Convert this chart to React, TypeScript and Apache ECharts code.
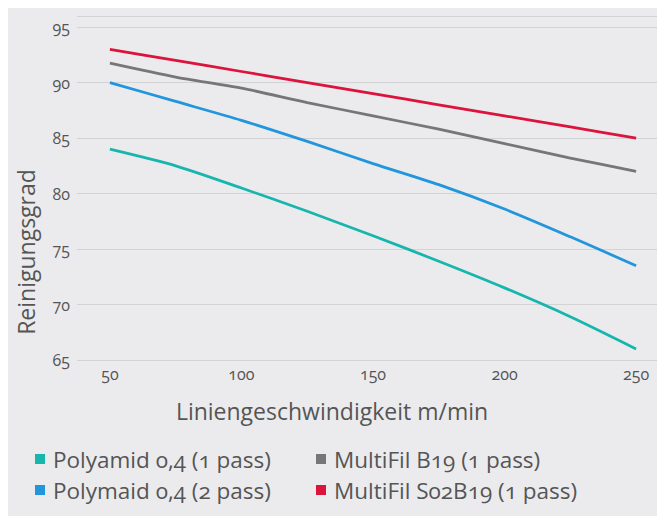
import React, { useEffect, useRef } from "react";
import * as echarts from "echarts";

const speeds = ["50", "75", "100", "125", "150", "175", "200", "225", "250"];
const yTicks = { min: 65, max: 96, interval: 5 };

const seriesNames = [
  "Polyamid 0,4 (1 pass)",
  "MultiFil B19 (1 pass)",
  "Polymaid 0,4 (2 pass)",
  "MultiFil S02B19 (1 pass)",
];
const polyamid1 = [84, 82.5, 80.5, 78.4, 76.2, 73.9, 71.5, 68.9, 66];
const multiFilB19 = [91.75, 90.5, 89.5, 88.2, 87.0, 85.8, 84.5, 83.2, 82.0];
const polyamid2 = [90, 88.3, 86.6, 84.7, 82.7, 80.8, 78.6, 76.1, 73.5];
const multiFilS02 = [93, 92, 91, 90, 89, 88, 87, 86, 85];
const seriesColors = ["#17b6ad", "#767676", "#2196dc", "#dc143c"];

const yTitle = "Reinigungsgrad";
const xTitle = "Liniengeschwindigkeit m/min";

const FONT = "'Open Sans', 'Noto Sans', sans-serif";
const TEXT = "#555555";

export default function App() {
  const ref = useRef<HTMLDivElement>(null);
  useEffect(() => {
    if (!ref.current) return;
    const chart = echarts.init(ref.current, undefined, { renderer: "svg" });
    const data = [polyamid1, multiFilB19, polyamid2, multiFilS02];
    const legendText = {
      color: TEXT,
      fontSize: 22.5,
      lineHeight: 28,
      fontFamily: FONT,
      padding: [0, 0, 0, 3],
    };
    chart.setOption({
      animation: false,
      backgroundColor: "#ebebee",
      textStyle: { fontFamily: FONT },
      grid: { left: 69, right: 0, top: 8, bottom: 156, containLabel: false },
      xAxis: {
        type: "category",
        data: speeds,
        boundaryGap: true,
        axisLine: { show: false },
        axisTick: { show: false },
        splitLine: { show: false },
        axisLabel: { interval: 1, color: TEXT, fontSize: 16, margin: 6, fontFamily: FONT },
      },
      yAxis: {
        type: "value",
        min: yTicks.min,
        max: yTicks.max,
        interval: yTicks.interval,
        axisLine: { show: false },
        axisTick: { show: false },
        splitLine: { lineStyle: { color: "#d3d3d6", width: 1 } },
        axisLabel: {
          color: TEXT,
          fontSize: 16,
          margin: 7,
          fontFamily: FONT,
          formatter: (v: number) => (v % 5 === 0 ? String(v) : ""),
        },
      },
      legend: [
        {
          orient: "vertical",
          left: 27,
          top: 437,
          padding: 0,
          itemWidth: 10,
          itemHeight: 10,
          itemGap: 3,
          icon: "rect",
          data: [seriesNames[0], seriesNames[2]],
          textStyle: legendText,
        },
        {
          orient: "vertical",
          left: 308,
          top: 437,
          padding: 0,
          itemWidth: 10,
          itemHeight: 10,
          itemGap: 3,
          icon: "rect",
          data: [seriesNames[1], seriesNames[3]],
          textStyle: legendText,
        },
      ],
      graphic: [
        {
          type: "text",
          x: 18,
          y: 244,
          rotation: Math.PI / 2,
          style: {
            text: yTitle,
            fill: TEXT,
            font: `23px ${FONT}`,
            textAlign: "center",
            textVerticalAlign: "middle",
          },
        },
        {
          type: "text",
          x: 324,
          y: 403,
          style: {
            text: xTitle,
            fill: TEXT,
            font: `23px ${FONT}`,
            textAlign: "center",
            textVerticalAlign: "middle",
          },
        },
      ],
      series: seriesNames.map((name, i) => ({
        name,
        type: "line",
        data: data[i],
        smooth: 0.25,
        symbol: "none",
        lineStyle: { color: seriesColors[i], width: 2.75 },
        itemStyle: { color: seriesColors[i] },
      })),
    });
    return () => chart.dispose();
  }, []);
  return (
    <div
      style={{
        position: "absolute",
        left: 8,
        top: 8,
        width: 649,
        height: 508,
        overflow: "hidden",
        background: "#ebebee",
      }}
    >
      <div
        ref={ref}
        style={{ width: 661, height: 508, fontFeatureSettings: '"onum"' }}
      />
    </div>
  );
}
